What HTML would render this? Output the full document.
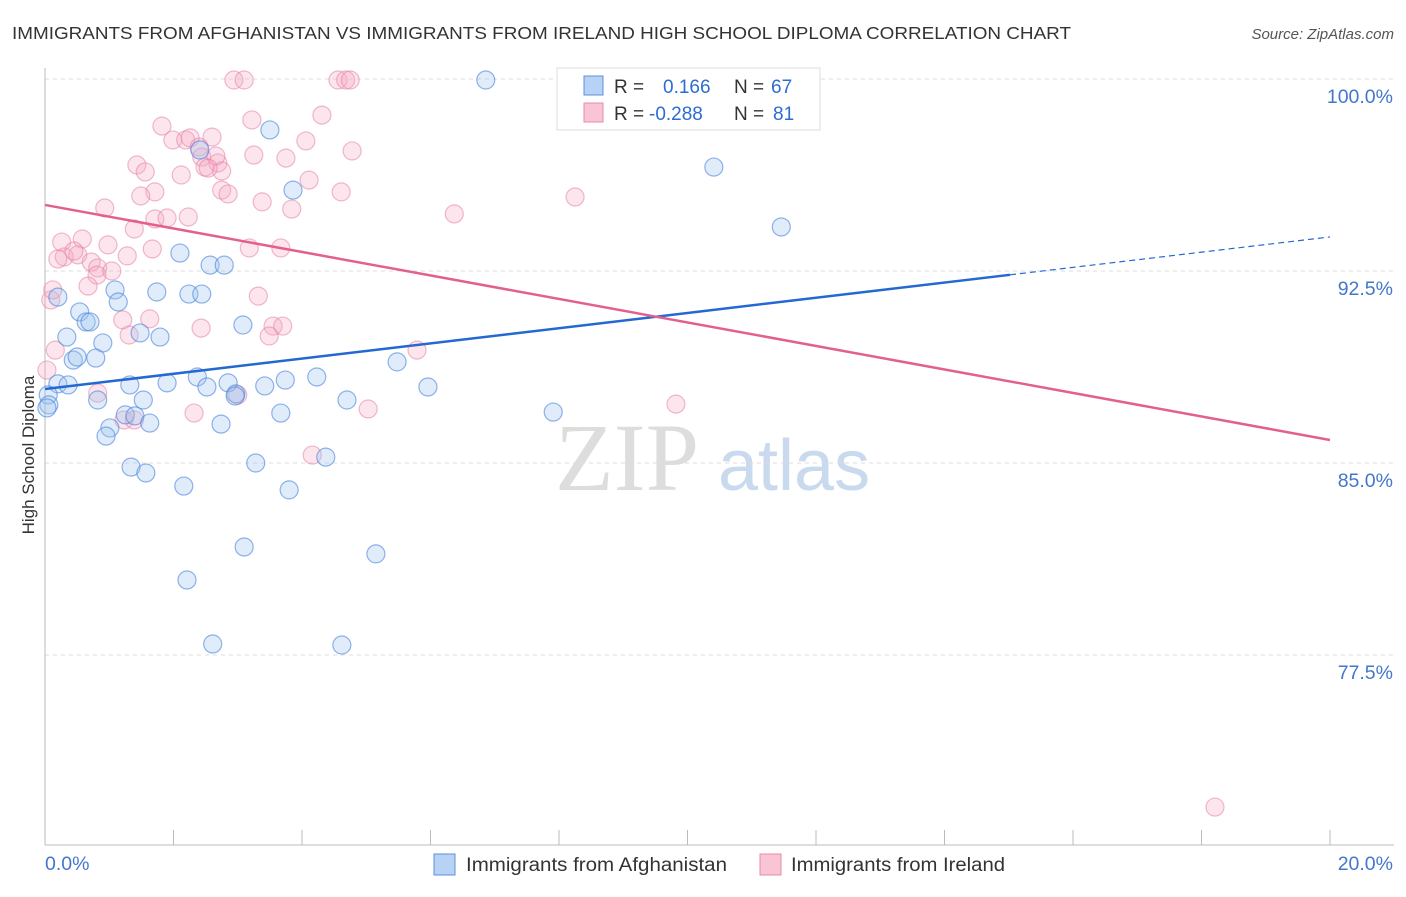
<!DOCTYPE html>
<html><head><meta charset="utf-8"><style>
body{margin:0;background:#fff;font-family:"Liberation Sans",sans-serif;}
</style></head><body>
<svg width="1406" height="892" xmlns="http://www.w3.org/2000/svg">
<text x="12" y="39" font-size="17.5" fill="#333" textLength="1059" lengthAdjust="spacingAndGlyphs">IMMIGRANTS FROM AFGHANISTAN VS IMMIGRANTS FROM IRELAND HIGH SCHOOL DIPLOMA CORRELATION CHART</text>
<text x="1394" y="39" font-size="15" fill="#555" font-style="italic" text-anchor="end">Source: ZipAtlas.com</text>
<text x="555" y="490" font-size="96" fill="#ddd" font-family="Liberation Serif">ZIP</text>
<text x="718" y="490" font-size="72" fill="#c9d9ee">atlas</text>
<g id="grid"></g>
<g id="axes"></g>
<g id="pts"></g>
<g id="lines"></g>
<text transform="translate(34,455) rotate(-90)" font-size="17" fill="#333" text-anchor="middle">High School Diploma</text>
<g>
<rect x="557" y="68" width="263" height="62" fill="#fff" stroke="#ddd"/>
<rect x="584" y="76" width="19" height="19" fill="#b8d2f5" stroke="#5b8fdc"/>
<rect x="584" y="103" width="19" height="19" fill="#f9c5d5" stroke="#e58aa8"/>
<text x="614" y="93" font-size="19" fill="#333">R = </text><text x="663" y="93" font-size="19" fill="#2d6cd0">0.166</text>
<text x="734" y="93" font-size="19" fill="#333">N = </text><text x="771" y="93" font-size="19" fill="#2d6cd0">67</text>
<text x="614" y="120" font-size="19" fill="#333">R = </text><text x="649" y="120" font-size="19" fill="#2d6cd0">-0.288</text>
<text x="734" y="120" font-size="19" fill="#333">N = </text><text x="773" y="120" font-size="19" fill="#2d6cd0">81</text>
</g>
<g>
<rect x="434" y="854" width="21" height="21" fill="#b8d2f5" stroke="#5b8fdc"/>
<text x="466" y="871" font-size="19" fill="#333" textLength="261" lengthAdjust="spacingAndGlyphs">Immigrants from Afghanistan</text>
<rect x="760" y="854" width="21" height="21" fill="#f9c5d5" stroke="#e58aa8"/>
<text x="791" y="871" font-size="19" fill="#333" textLength="214" lengthAdjust="spacingAndGlyphs">Immigrants from Ireland</text>
</g>
</svg>
<script>
const blueX=[6.86,3.50,2.41,10.41,3.86,11.46,2.10,2.57,2.79,0.20,1.09,1.74,2.24,2.44,1.14,0.54,0.64,0.70,3.08,0.34,1.79,1.48,0.90,0.44,0.50,0.79,5.48,0.20,0.05,0.06,0.03,0.36,1.32,1.90,2.37,2.52,2.85,2.97,3.42,3.74,4.23,4.70,5.96,1.53,0.82,7.91,1.25,1.40,3.67,1.63,1.01,0.95,2.74,1.34,1.57,3.28,4.37,2.16,3.80,3.10,5.15,2.21,2.61,4.62,2.96];
const blueY=[99.96,98.01,97.23,96.56,95.66,94.22,93.20,92.73,92.73,91.48,91.76,91.68,91.60,91.60,91.29,90.90,90.51,90.51,90.39,89.92,89.92,90.08,89.69,89.02,89.14,89.10,88.95,88.09,87.66,87.27,87.15,88.05,88.05,88.13,88.36,87.97,88.13,87.70,88.01,88.24,88.36,87.46,87.97,87.46,87.46,86.99,86.88,86.84,86.95,86.56,86.37,86.05,86.52,84.84,84.61,85.00,85.23,84.10,83.95,81.72,81.45,80.43,77.93,77.89,87.62];
const pinkX=[2.94,3.10,4.56,4.68,4.75,1.82,3.22,4.31,1.99,2.19,2.26,2.60,2.40,2.44,2.69,2.49,2.75,1.43,3.25,4.06,3.75,4.78,2.66,1.56,2.12,2.54,1.71,2.75,1.49,2.85,4.61,4.11,3.38,8.25,3.84,0.93,1.71,1.90,2.23,6.37,1.39,0.26,0.58,0.98,0.30,0.51,0.45,0.20,0.72,1.67,3.18,3.67,0.82,1.28,0.81,1.04,0.67,0.09,0.12,1.21,1.63,3.32,0.16,0.03,2.43,1.31,3.55,3.70,3.49,5.79,0.82,2.32,5.03,9.82,3.00,4.16,1.23,1.39,18.21,11.18];
const pinkY=[99.96,99.96,99.96,99.96,99.96,98.16,98.40,98.59,97.62,97.62,97.70,97.73,97.34,96.95,96.72,96.56,96.41,96.64,97.03,97.58,96.91,97.19,96.99,96.37,96.25,96.52,95.59,95.66,95.43,95.51,95.59,96.05,95.20,95.39,94.92,94.96,94.53,94.57,94.61,94.73,94.14,93.63,93.75,93.52,93.05,93.13,93.28,92.97,92.85,93.36,93.40,93.40,92.62,93.09,92.34,92.50,91.91,91.37,91.76,90.59,90.63,91.52,89.41,88.63,90.27,90.00,90.35,90.35,89.96,89.41,87.73,86.95,87.11,87.30,87.66,85.31,86.68,86.68,71.56,98.40];
const yTicks=[100,92.5,85,77.5];
const yTickLabels=["100.0%","92.5%","85.0%","77.5%"];
const blueTrend=[87.89,93.83];
const pinkTrend=[95.08,85.90];
const X=v=>45+v*64.25, Y=v=>79+(100-v)*25.6;
const NS="http://www.w3.org/2000/svg";
function mk(p,t,a){const e=document.createElementNS(NS,t);for(const k in a)e.setAttribute(k,a[k]);p.appendChild(e);return e;}
const g=document.getElementById('grid'),ax=document.getElementById('axes'),pts=document.getElementById('pts'),ln=document.getElementById('lines');
yTicks.forEach((t,i)=>{
 const l=mk(g,'line',{x1:45,x2:1394,y1:Y(t),y2:Y(t),stroke:'#ddd','stroke-dasharray':'4,4'});
 
 
 const tx=mk(g,'text',{x:1393,y:Y(t)+24,'font-size':19.5,fill:'#4477cc','text-anchor':'end'});
 tx.textContent=yTickLabels[i];
 
 
});
mk(ax,'line',{x1:45,x2:45,y1:68,y2:845,stroke:'#bbb'});
mk(ax,'line',{x1:45,x2:1394,y1:845,y2:845,stroke:'#bbb'});
for(let i=0;i<=10;i++){mk(ax,'line',{x1:X(i*2),x2:X(i*2),y1:830,y2:845,stroke:'#bbb'});}
const x0=mk(ax,'text',{x:45,y:870,'font-size':19.5,fill:'#4477cc'});x0.textContent='0.0%';


const x1=mk(ax,'text',{x:1393,y:870,'font-size':19.5,fill:'#4477cc','text-anchor':'end'});x1.textContent='20.0%';


pinkX.forEach((x,i)=>{const c=mk(pts,'circle',{cx:X(x),cy:Y(pinkY[i]),r:9,fill:'rgba(245,170,195,0.3)',stroke:'rgba(228,130,165,0.55)','stroke-width':1.2});
 
 });
blueX.forEach((x,i)=>{const c=mk(pts,'circle',{cx:X(x),cy:Y(blueY[i]),r:9,fill:'rgba(160,195,240,0.32)',stroke:'rgba(70,130,220,0.6)','stroke-width':1.2});
 
 });
const bAt=x=>blueTrend[0]+(blueTrend[1]-blueTrend[0])*x/20;
let l1=mk(ln,'line',{x1:X(0),y1:Y(bAt(0)),x2:X(15.02),y2:Y(bAt(15.02)),stroke:'#2468d2','stroke-width':2.5});


let l2=mk(ln,'line',{x1:X(15.02),y1:Y(bAt(15.02)),x2:X(20),y2:Y(bAt(20)),stroke:'#2468d2','stroke-width':1.2,'stroke-dasharray':'6,4'});


let l3=mk(ln,'line',{x1:X(0),y1:Y(pinkTrend[0]),x2:X(20),y2:Y(pinkTrend[1]),stroke:'#e3608e','stroke-width':2.5});


</script>
</body></html>
